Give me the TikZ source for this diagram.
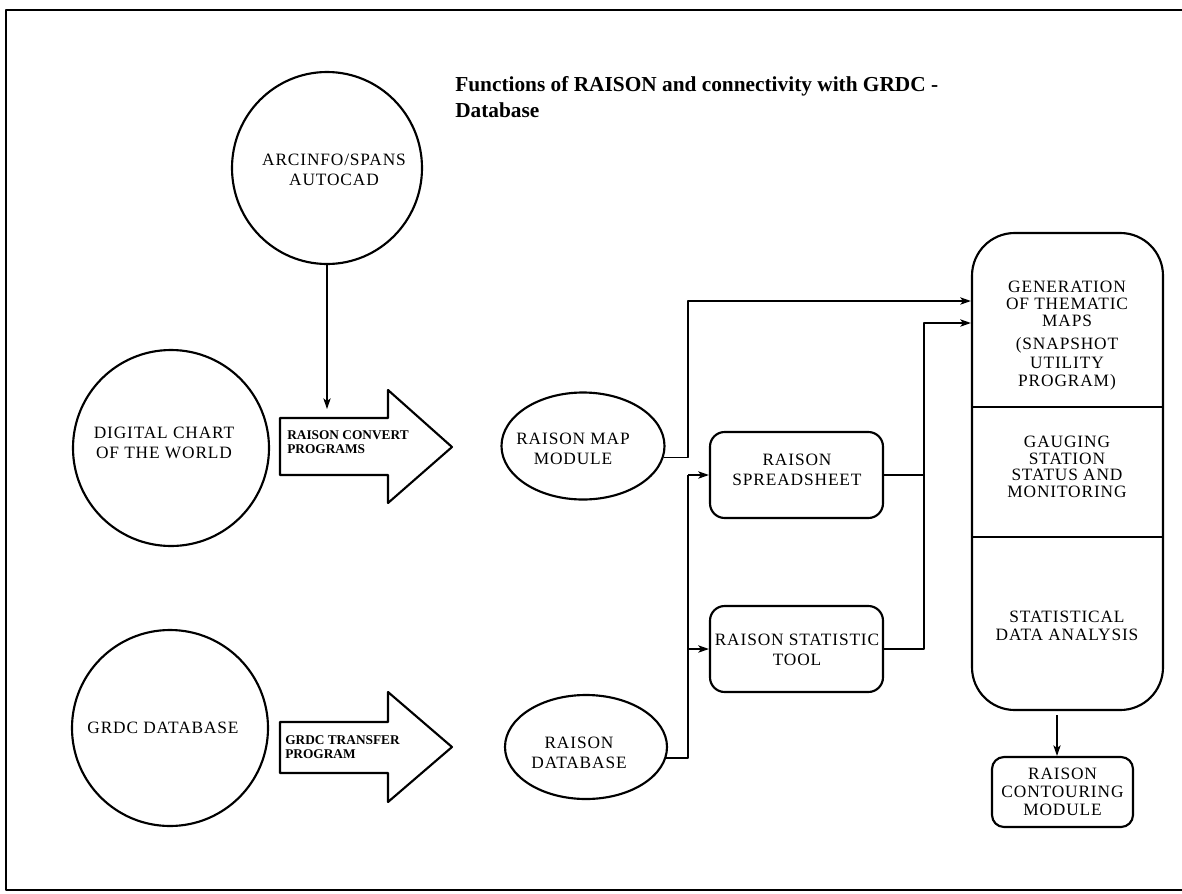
\documentclass[tikz,border=0pt]{standalone}
\usepackage{fontspec}
\setmainfont{Liberation Serif}
\newfontfamily\spaced[LetterSpace=5]{Liberation Serif}
\usetikzlibrary{shapes.geometric,arrows.meta}
\begin{document}
\begin{tikzpicture}[x=0.75pt,y=-0.75pt,line join=round,
  outline/.style={draw,line width=1.6pt},
  circ/.style={ellipse,draw,line width=1.6pt,inner sep=0pt},
  rbox/.style={rectangle,draw,line width=1.6pt,rounded corners=11pt,inner sep=0pt},
  lab/.style={inner sep=0pt,align=center,font=\spaced\fontsize{13}{15}\selectfont},
  boxlab/.style={inner sep=0pt,align=center,font=\spaced\fontsize{13}{12.5}\selectfont},
  small/.style={inner sep=0pt,align=left,font=\fontsize{10}{10.5}\selectfont\bfseries},
  conn/.style={line width=1.2pt},
  thin/.style={line width=0.8pt},
  tip/.style={-{Stealth[length=8pt,width=5.5pt,inset=2pt]}}
]
\useasboundingbox (0,0) rectangle (1182,893);
% frame
\draw[line width=1.5pt] (1182,10) -- (6,10) -- (6,890) -- (1182,890);

% title
\node[anchor=north west,inner sep=0pt,align=left,font=\fontsize{16}{20}\selectfont\bfseries] (title) at (455,76)
  {Functions of RAISON and connectivity with GRDC -\\Database};

% circles
\node[circ,minimum width={190*0.75pt},minimum height={192*0.75pt}] (arc) at (327,168) {};
\node[lab] (arct) at (334,170) {ARCINFO/SPANS\\AUTOCAD};

\node[circ,minimum width={196*0.75pt},minimum height={196*0.75pt}] (dcw) at (171,448) {};
\node[lab] (dcwt) at (164,443) {DIGITAL CHART\\OF THE WORLD};

\node[circ,minimum width={196*0.75pt},minimum height={196*0.75pt}] (grdc) at (170,728) {};
\node[lab] (grdct) at (163,728) {GRDC DATABASE};

% big arrows
\draw[outline] (280,418) -- (388,418) -- (388,390) -- (452,447) -- (388,503) -- (388,475) -- (280,475) -- cycle;
\coordinate (convtop) at (327,409);
\node[small,anchor=west] (convt) at (287,442) {RAISON CONVERT\\PROGRAMS};

\draw[outline] (280,722) -- (388,722) -- (388,692) -- (452,747) -- (388,802) -- (388,773) -- (280,773) -- cycle;
\node[small,anchor=west] (transt) at (285,747) {GRDC TRANSFER\\PROGRAM};

\draw[thin,tip] (arc.south) -- (convtop);

% ellipses
\node[circ,minimum width={163*0.75pt},minimum height={107*0.75pt}] (map) at (583,446) {};
\node[lab] (mapt) at (573,449) {RAISON MAP\\MODULE};

\node[circ,minimum width={162*0.75pt},minimum height={104*0.75pt}] (db) at (586,747) {};
\node[lab] (dbt) at (579,753) {RAISON\\DATABASE};

% rounded boxes
\node[rbox,minimum width={173*0.75pt},minimum height={86*0.75pt}] (ss) at (796.5,475) {};
\node[lab] (sst) at (797,470) {RAISON\\SPREADSHEET};

\node[rbox,minimum width={173*0.75pt},minimum height={86*0.75pt}] (stat) at (796.5,649) {};
\node[lab] (statt) at (797,650) {RAISON STATISTIC\\TOOL};

% big box
\node[rbox,rounded corners=32pt,minimum width={191*0.75pt},minimum height={477*0.75pt}] (big) at (1067.5,471.5) {};
\draw[thin] (big.west |- 0,407) -- (big.east |- 0,407);
\draw[thin] (big.west |- 0,537) -- (big.east |- 0,537);
\node[boxlab] (g1) at (1067,304) {GENERATION\\OF THEMATIC\\MAPS};
\node[boxlab,font=\spaced\fontsize{13}{14}\selectfont] (g2) at (1067,364) {(SNAPSHOT\\UTILITY\\PROGRAM)};
\node[boxlab] (g3) at (1067,467) {GAUGING\\STATION\\STATUS AND\\MONITORING};
\node[boxlab,font=\spaced\fontsize{13}{13.5}\selectfont] (g4) at (1067,626) {STATISTICAL\\DATA ANALYSIS};

% contouring
\node[rbox,rounded corners=9pt,minimum width={141*0.75pt},minimum height={70*0.75pt}] (cont) at (1062.5,792) {};
\node[boxlab,font=\spaced\fontsize{13}{13.5}\selectfont] (contt) at (1062.5,792) {RAISON\\CONTOURING\\MODULE};

% connectors
\coordinate (vbus) at (688,0);
\coordinate (jx) at (924,0);
\coordinate (in1) at (0,301);
\coordinate (in2) at (0,323);
\coordinate (cx) at (1057,0);

\draw[conn,tip] (map.-8) -- (map.-8 -| vbus) |- (in1 -| big.west);
\draw[conn] (ss.east) -- (ss.east -| jx);
\draw[conn,tip] (stat.east) -| (in2 -| jx) -- (in2 -| big.west);
\draw[conn] (db.-8) -| (ss.west -| vbus);
\draw[conn,tip] (ss.west -| vbus) -- (ss.west);
\draw[conn,tip] (stat.west -| vbus) -- (stat.west);
\draw[thin,tip] ([yshift=-3pt]big.south -| cx) -- (cont.north -| cx);
\end{tikzpicture}
\end{document}
